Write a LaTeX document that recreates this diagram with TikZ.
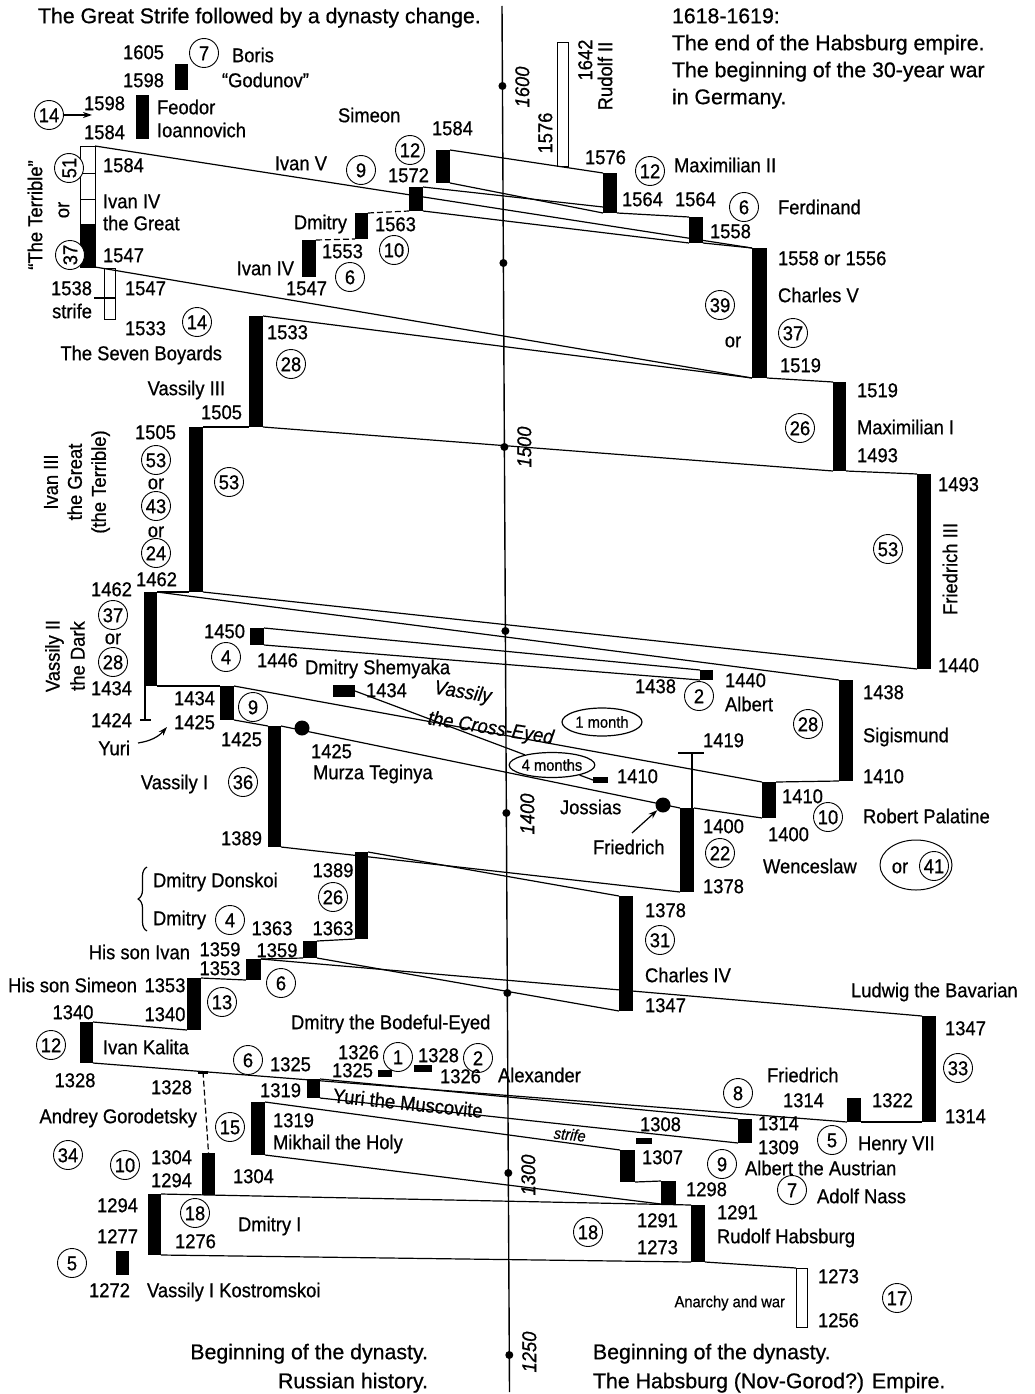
\documentclass[tikz,border=0pt]{standalone}
\usepackage{fontspec}
\setmainfont[FakeStretch=0.92,FakeBold=0.7]{Liberation Sans}
\newfontfamily\capfam[FakeStretch=1.0,FakeBold=0.7]{Liberation Sans}
\usetikzlibrary{shapes.geometric,decorations.pathreplacing,arrows.meta,calc}
\newcommand\fs{\fontsize{20}{25}\selectfont}
\newcommand\fsm{\fontsize{16}{19}\selectfont}
\newcommand\fcap{\capfam\fontsize{21.3}{26}\selectfont}
\newcommand\mkbar[6][blk]{\node[#1,minimum width=#5pt-#3pt,minimum height=#6pt-#4pt] (#2) at ({(#3+#5)/2},{(#4+#6)/2}) {};}
\tikzset{
 t/.style={inner sep=0pt,outer sep=0pt,text height=14.4pt,text depth=0pt},
 L/.style={t,anchor=west},
 R/.style={t,anchor=east},
 C/.style={t},
 captxt/.style={t,font=\fcap},
 cn/.style={circle,draw,line width=0.9pt,fill=white,inner sep=0pt,minimum size=29pt,text height=14.4pt,text depth=0pt},
 blk/.style={fill=black,inner sep=0pt,outer sep=0pt,rectangle},
 wht/.style={draw=black,line width=1pt,fill=white,inner sep=0pt,outer sep=0pt,rectangle},
 frm/.style={draw=black,line width=1pt,inner sep=0pt,outer sep=0pt,rectangle},
 ln/.style={line width=1.2pt,line join=round},
 dln/.style={ln,dash pattern=on 6pt off 3pt},
 axis/.style={line width=1.4pt},
 adot/.style={circle,fill=black,inner sep=0pt,minimum size=8pt},
 bdot/.style={circle,fill=black,inner sep=0pt,minimum size=15pt},
 rl/.style={t,rotate=90},
 yr/.style={t,rotate=90,font=\fs\itshape},
 tip/.style={-{Stealth[length=9pt,width=6pt]}},
 oval/.style={ellipse,draw,line width=1.2pt,fill=white,inner sep=0pt,font=\fsm},
}
\begin{document}
\begin{tikzpicture}[x=1pt,y=-1pt,font=\fs]
\useasboundingbox (0,0) rectangle (1035,1394);
\fill[white] (0,0) rectangle (1035,1394);
% ---------------- axis
\coordinate (atop) at (502,6); \coordinate (abot) at (509.5,1392);
\draw[axis] (atop) -- (abot);
\foreach \yy/\nm in {86/a1,263/a2,447/a3,631/a4,813/a5,993/a6,1173/a7,1355/a8}
  \node[adot] (\nm) at ($(atop)!{(\yy-6)/1386}!(abot)$) {};
\node[yr] (y1600) at (522,87) {1600};
\node[yr] (y1500) at (524,447) {1500};
\node[yr] (y1400) at (527,814) {1400};
\node[yr] (y1300) at (528,1175) {1300};
\node[yr] (y1250) at (529,1352) {1250};
% ---------------- bars, Russian side
\mkbar{boris}{175}{64}{188}{90}
\mkbar{feodor}{136}{95}{149}{139}
\mkbar[wht]{iv4a}{80}{146}{95}{173}
\mkbar[wht]{iv4b}{80}{173}{95}{199}
\mkbar[wht]{iv4c}{80}{199}{95}{224}
\mkbar{iv4d}{80}{224}{95}{267}
\mkbar[frm]{ivan4}{80}{146}{95}{267}
\mkbar[wht]{strife}{104}{268}{115}{319}
\mkbar{iv2}{302}{240}{316}{277}
\mkbar{dmitryA}{355}{213}{368}{239}
\mkbar{ivan5}{409}{187}{423}{211}
\mkbar{simeon}{436}{150}{450}{183}
\mkbar{vas3}{249}{316}{263}{427}
\mkbar{ivan3}{189}{427}{203}{592}
\mkbar{vdark}{144}{592}{157}{686}
\mkbar{shem}{250}{628}{264}{645}
\mkbar{vas2}{220}{686}{234}{720}
\mkbar{vas1}{268}{726}{281}{847}
\mkbar{xeyed}{333}{685}{355}{697}
\mkbar{donskoi}{355}{852}{368}{939}
\mkbar{dmitryB}{303}{941}{317}{958}
\mkbar{ivanson}{246}{959}{261}{980}
\mkbar{simson}{187}{978}{201}{1030}
\mkbar{kalita}{80}{1022}{93}{1063}
\mkbar{bode}{378}{1070}{392}{1077}
\mkbar{alex}{414}{1065}{432}{1072}
\mkbar{yuri}{307}{1079}{320}{1098}
\mkbar{mikhail}{251}{1102}{265}{1155}
\mkbar{andrey}{202}{1153}{215}{1195}
\mkbar{dmitryI}{148}{1194}{161}{1255}
\mkbar{kostrom}{116}{1251}{129}{1275}
% ---------------- bars, Habsburg side
\mkbar[wht]{rudolf2}{557}{43}{568}{166}
\mkbar{max2}{603}{173}{617}{213}
\mkbar{ferd}{689}{217}{703}{243}
\mkbar{charles5}{752}{248}{767}{378}
\mkbar{max1}{833}{382}{846}{471}
\mkbar{fr3}{917}{474}{931}{669}
\mkbar{albert}{700}{670}{713}{680}
\mkbar{sigis}{839}{680}{853}{781}
\mkbar{joss}{593}{777}{608}{783}
\mkbar{robert}{762}{782}{776}{818}
\mkbar{wenc}{680}{808}{694}{892}
\mkbar{charles4}{619}{896}{633}{1011}
\mkbar{ludwig}{922}{1016}{936}{1122}
\mkbar{fried}{847}{1098}{861}{1122}
\mkbar{henry}{738}{1119}{752}{1143}
\mkbar{s1308}{636}{1138}{652}{1144}
\mkbar{albaus}{620}{1150}{635}{1182}
\mkbar{adolf}{661}{1181}{676}{1204}
\mkbar{rudolf}{691}{1205}{705}{1262}
\mkbar[wht]{anarchy}{796}{1268}{807}{1327}
% ---------------- connectors
\coordinate (max2in) at ($(max2.south west)+(0,-6)$);
\draw[ln] (simeon.north east) -- (max2.north west);
\draw[ln] (simeon.south east) -- (max2.south west);
\draw[ln] (ivan5.north east) -- (max2in);
\draw[ln] (ivan5.south east) -- (ferd.south west);
\draw[ln] (max2.south east) -- (ferd.north west);
\draw[ln] (ivan4.north east) -- (charles5.north west);
\draw[ln] (ivan4.south east) -- (charles5.south west);
\draw[ln] (ferd.south east) -- (charles5.north west);
\draw[dln] (iv2.north east) -- (dmitryA.south west);
\draw[dln] (dmitryA.north east) -- (ivan5.south west);
\draw[ln] (vas3.north east) -- (charles5.south west);
\draw[ln] (charles5.south east) -- (max1.north west);
\draw[ln] (vas3.south east) -- (max1.south west);
\draw[ln] (max1.south east) -- (fr3.north west);
\draw[ln] (ivan3.north east) -- (vas3.south west);
\draw[ln] (ivan3.south east) -- (fr3.south west);
\draw[ln] (vdark.north east) -- (ivan3.south west);
\draw[ln] (vdark.north east) -- (sigis.north west);
\draw[ln] (vdark.south east) -- (vas2.north west);
\draw[ln] (vas2.north east) -- (robert.north west);
\draw[ln] (robert.north east) -- (sigis.south west);
\draw[ln] (vas2.south east) -- (vas1.north west);
\draw[ln] (vas1.north east) -- (wenc.north west);
\draw[ln] (wenc.north east) -- (robert.south west);
\draw[ln] (vas1.south east) -- (wenc.south west);
\draw[ln] (shem.north east) -- (albert.north west);
\draw[ln] (shem.south east) -- (albert.south west);
\draw[ln] (donskoi.north east) -- (charles4.north west);
\draw[ln] (dmitryB.north east) -- (donskoi.south west);
\draw[ln] (dmitryB.south east) -- (charles4.south west);
\draw[ln] (ivanson.north east) -- (dmitryB.south west);
\draw[ln] (ivanson.north east) -- (ludwig.north west);
\draw[ln] (simson.north east) -- (ivanson.south west);
\draw[ln] (kalita.north east) -- (simson.south west);
\draw[ln] (kalita.south east) -- (fried.south west) coordinate[pos=0.1459] (adtop);
\draw[ln] (fried.south east) -- (ludwig.south west);
\draw[ln] (yuri.north east) -- (henry.north west);
\draw[ln] (yuri.south east) -- (henry.south west);
\draw[ln] (mikhail.north east) -- (albaus.north west);
\draw[ln] (mikhail.south east) -- (adolf.south west);
\draw[ln] (albaus.south east) -- (adolf.north west);
\draw[ln] (dmitryI.north east) -- (rudolf.north west);
\draw[ln] (dmitryI.south east) -- (rudolf.south west);
\draw[ln] (rudolf.south east) -- (anarchy.north west);
\draw[dln] (adtop) -- (andrey.north);
\draw[line width=2.5pt] ($(adtop)+(-5,1)$) -- ($(adtop)+(5,1)$);
% T marks
\coordinate (yT) at (145,720);
\draw[ln] (yT |- vdark.south) -- (yT);
\draw[ln] ($(yT)+(-5,0)$) -- ($(yT)+(6,0)$);
\coordinate (tT) at (692,753);
\draw[ln] (tT) -- (tT |- wenc.north);
\draw[ln] ($(tT)+(-14,0)$) -- ($(tT)+(12,0)$);
\draw[ln] (94,298) -- (strife.east |- 0,298);
% ovals and cross-eyed
\node[oval,minimum width=80pt,minimum height=28pt] (onem) at (602,722) {1 month};
\node[oval,minimum width=80pt,minimum height=25pt] (fourm) at (552,765) {4 months};
\draw[ln] (xeyed.east) -- (fourm);
\draw[ln] (fourm) -- (joss.west);
% dots
\node[bdot] (murza) at (302,728) {};
\node[bdot] (frdot) at (663,805) {};
% brace
\draw[ln,decorate,decoration={brace,amplitude=9pt}] (147,931) -- (147,867);
% ---------------- texts, top
\node[captxt,anchor=west] (h1) at (38,16) {The Great Strife followed by a dynasty change.};
\node[captxt,anchor=west] (h2) at (672,16) {1618-1619:};
\node[captxt,anchor=west] (h3) at (672,43) {The end of the Habsburg empire.};
\node[captxt,anchor=west] (h4) at (672,70) {The beginning of the 30-year war};
\node[captxt,anchor=west] (h5) at (672,97) {in Germany.};
% Boris, Feodor
\node[R] at (164,52) {1605};
\node[R] at (164,80) {1598};
\node[cn] (c1) at (204,53) {7};
\node[L] at (232,55) {Boris};
\node[L] at (222,80) {``Godunov''};
\node[R] at (125,103) {1598};
\node[R] at (125,132) {1584};
\node[L] at (157,107) {Feodor};
\node[L] at (157,130) {Ioannovich};
\node[cn] (c2) at (49,115) {14};
\coordinate (arr14) at (92,115);
\draw[ln,tip] (c2.east) -- (arr14);
% Ivan IV
\node[L] at (103,165) {1584};
\node[L] at (103,201) {Ivan IV};
\node[L] at (103,223) {the Great};
\node[L] at (103,255) {1547};
\node[rl] at (35,215) {``The Terrible''};
\node[cn,rotate=90] (c3) at (69,168) {51};
\node[rl] at (62,210) {or};
\node[cn,rotate=90] (c4) at (70,255) {37};
\node[R] at (92,288) {1538};
\node[R] at (92,311) {strife};
\node[L] at (125,288) {1547};
\node[L] at (125,328) {1533};
\node[cn] (c5) at (197,322) {14};
\node[R] at (222,353) {The Seven Boyards};
% Vassily III
\node[L] at (267,332) {1533};
\node[cn] (c6) at (291,364) {28};
\node[R] at (225,388) {Vassily III};
\node[R] at (242,412) {1505};
% Ivan IV (6), Dmitry, Ivan V, Simeon
\node[R] at (294,268) {Ivan IV};
\node[R] at (327,288) {1547};
\node[L] at (322,251) {1553};
\node[cn] (c7) at (350,277) {6};
\node[R] at (347,222) {Dmitry};
\node[L] at (375,224) {1563};
\node[cn] (c8) at (394,250) {10};
\node[R] at (327,163) {Ivan V};
\node[cn] (c9) at (361,170) {9};
\node[L] at (388,175) {1572};
\node[L] at (338,115) {Simeon};
\node[cn] (c10) at (410,150) {12};
\node[L] at (432,128) {1584};
% Rudolf II, Maximilian II, Ferdinand, Charles V
\node[rl] at (585,60) {1642};
\node[rl] at (605,76) {Rudolf II};
\node[rl] at (545,133) {1576};
\node[L] at (585,157) {1576};
\node[cn] (c11) at (650,171) {12};
\node[L] at (674,165) {Maximilian II};
\node[L] at (622,199) {1564};
\node[L] at (675,199) {1564};
\node[cn] (c12) at (744,207) {6};
\node[L] at (778,207) {Ferdinand};
\node[L] at (710,231) {1558};
\node[L] at (778,258) {1558 or 1556};
\node[L] at (778,295) {Charles V};
\node[cn] (c13) at (793,333) {37};
\node[cn] (c14) at (720,305) {39};
\node[C] at (733,340) {or};
\node[L] at (780,365) {1519};
% Maximilian I, Friedrich III
\node[L] at (857,390) {1519};
\node[L] at (857,427) {Maximilian I};
\node[L] at (857,455) {1493};
\node[cn] (c15) at (800,428) {26};
\node[L] at (938,484) {1493};
\node[rl] at (950,569) {Friedrich III};
\node[L] at (938,665) {1440};
\node[cn] (c16) at (888,549) {53};
% Ivan III
\node[R] at (176,432) {1505};
\node[cn] (c17) at (156,460) {53};
\node[C] at (156,482) {or};
\node[cn] (c18) at (156,506) {43};
\node[C] at (156,530) {or};
\node[cn] (c19) at (156,553) {24};
\node[R] at (177,579) {1462};
\node[cn] (c20) at (229,482) {53};
\node[rotate=90,align=center,inner sep=0pt,font=\fontsize{20}{24}\selectfont] at (77,482) {Ivan III\\the Great\\(the Terrible)};
% Vassily II the Dark
\node[R] at (132,589) {1462};
\node[cn] (c21) at (113,615) {37};
\node[C] at (113,637) {or};
\node[cn] (c22) at (113,662) {28};
\node[R] at (132,688) {1434};
\node[rotate=90,align=center,inner sep=0pt,font=\fontsize{20}{25}\selectfont] at (65,656) {Vassily II\\the Dark};
% Shemyaka, Cross-Eyed
\node[R] at (245,631) {1450};
\node[cn] (c23) at (226,657) {4};
\node[L] at (257,660) {1446};
\node[L] at (305,667) {Dmitry Shemyaka};
\node[L] at (366,690) {1434};
\node[t,rotate=-9,font=\fs\itshape] at (463,691) {Vassily};
\node[t,rotate=-9,font=\fs\itshape] at (491,727) {the Cross-Eyed};
% Albert, Sigismund, Robert, Wenceslaw
\node[R] at (676,686) {1438};
\node[L] at (725,680) {1440};
\node[cn] (c24) at (699,696) {2};
\node[L] at (725,704) {Albert};
\node[L] at (863,692) {1438};
\node[L] at (863,735) {Sigismund};
\node[L] at (863,776) {1410};
\node[cn] (c25) at (808,724) {28};
\node[L] at (703,740) {1419};
\node[L] at (782,796) {1410};
\node[L] at (768,834) {1400};
\node[cn] (c26) at (828,817) {10};
\node[L] at (863,816) {Robert Palatine};
\node[L] at (703,826) {1400};
\node[cn] (c27) at (720,853) {22};
\node[L] at (703,886) {1378};
\node[L] at (763,866) {Wenceslaw};
\node[ellipse,draw,line width=1pt,minimum width=72pt,minimum height=50pt,inner sep=0pt] (orell) at (916,865) {};
\node[C] at (900,866) {or};
\node[cn] (c28) at (934,866) {41};
% Vassily II, Vassily I, Yuri
\node[R] at (215,698) {1434};
\node[R] at (215,722) {1425};
\node[cn] (c29) at (253,707) {9};
\node[R] at (132,720) {1424};
\node[R] (yuri) at (130,748) {Yuri};
\coordinate (yaS) at (138,743); \coordinate (yaE) at (167,727);
\draw[ln,tip] (yaS) to[bend right=20] (yaE);
\node[R] at (262,739) {1425};
\node[cn] (c30) at (243,782) {36};
\node[R] at (208,782) {Vassily I};
\node[R] at (262,838) {1389};
\node[L] at (311,751) {1425};
\node[L] at (313,772) {Murza Teginya};
% Jossias, Friedrich
\node[L] at (617,776) {1410};
\node[L] at (560,807) {Jossias};
\node[L] at (593,847) {Friedrich};
\coordinate (frA) at (632,833);
\draw[ln,tip] (frA) -- (frdot);
% Donskoi etc.
\node[C] at (333,870) {1389};
\node[cn] (c31) at (333,897) {26};
\node[C] at (333,928) {1363};
\node[L] at (153,880) {Dmitry Donskoi};
\node[L] at (153,918) {Dmitry};
\node[cn] (c32) at (230,920) {4};
\node[C] at (272,928) {1363};
\node[C] at (277,950) {1359};
\node[C] at (220,949) {1359};
\node[C] at (220,968) {1353};
\node[R] at (190,952) {His son Ivan};
\node[cn] (c33) at (281,983) {6};
\node[R] at (137,985) {His son Simeon};
\node[C] at (165,985) {1353};
\node[C] at (73,1012) {1340};
\node[C] at (165,1014) {1340};
\node[cn] (c34) at (222,1002) {13};
\node[cn] (c35) at (51,1045) {12};
\node[L] at (103,1047) {Ivan Kalita};
% Charles IV, Ludwig
\node[L] at (645,910) {1378};
\node[cn] (c36) at (660,940) {31};
\node[L] at (645,975) {Charles IV};
\node[L] at (645,1005) {1347};
\node[L] at (851,990) {Ludwig the Bavarian};
\node[L] at (945,1028) {1347};
\node[cn] (c37) at (958,1068) {33};
\node[L] at (945,1116) {1314};
% Bodeful-Eyed, Alexander
\node[L] at (291,1022) {Dmitry the Bodeful-Eyed};
\node[R] at (379,1052) {1326};
\node[R] at (373,1070) {1325};
\node[cn] (c38) at (398,1057) {1};
\node[L] at (418,1055) {1328};
\node[cn] (c39) at (478,1058) {2};
\node[L] at (440,1076) {1326};
\node[L] at (498,1075) {Alexander};
% Kalita area, Yuri the Muscovite
\node[cn] (c40) at (248,1060) {6};
\node[L] at (270,1064) {1325};
\node[C] at (75,1080) {1328};
\node[R] at (192,1087) {1328};
\node[R] at (301,1090) {1319};
\node[t,rotate=-6] at (408,1103) {Yuri the Muscovite};
% Andrey, Mikhail
\node[R] at (197,1116) {Andrey Gorodetsky};
\node[cn] (c41) at (68,1155) {34};
\node[cn] (c42) at (125,1165) {10};
\node[R] at (192,1157) {1304};
\node[R] at (192,1180) {1294};
\node[L] at (233,1176) {1304};
\node[cn] (c43) at (230,1127) {15};
\node[L] at (273,1120) {1319};
\node[L] at (273,1142) {Mikhail the Holy};
% Dmitry I, Kostromskoi
\node[R] at (138,1205) {1294};
\node[R] at (138,1236) {1277};
\node[cn] (c44) at (195,1213) {18};
\node[L] at (175,1241) {1276};
\node[L] at (238,1224) {Dmitry I};
\node[cn] (c45) at (72,1263) {5};
\node[R] at (130,1290) {1272};
\node[L] at (147,1290) {Vassily I Kostromskoi};
% Habsburg bottom
\node[L] at (640,1124) {1308};
\node[L] at (642,1157) {1307};
\node[t,rotate=-6,font=\fsm\itshape] at (570,1133) {strife};
\node[L] at (758,1123) {1314};
\node[L] at (758,1147) {1309};
\node[cn] (c46) at (722,1164) {9};
\node[L] at (745,1168) {Albert the Austrian};
\node[cn] (c47) at (832,1140) {5};
\node[L] at (858,1143) {Henry VII};
\node[cn] (c48) at (738,1093) {8};
\node[L] at (767,1075) {Friedrich};
\node[L] at (783,1100) {1314};
\node[L] at (872,1100) {1322};
\node[L] at (686,1189) {1298};
\node[cn] (c49) at (792,1190) {7};
\node[L] at (817,1196) {Adolf Nass};
\node[L] at (717,1212) {1291};
\node[L] at (717,1236) {Rudolf Habsburg};
\node[L] at (637,1220) {1291};
\node[L] at (637,1247) {1273};
\node[cn] (c50) at (588,1232) {18};
\node[L] at (818,1276) {1273};
\node[cn] (c51) at (897,1298) {17};
\node[L] at (818,1320) {1256};
\node[R,font=\fsm] at (785,1300) {Anarchy and war};
% bottom captions
\node[captxt,anchor=east] at (428,1352) {Beginning of the dynasty.};
\node[captxt,anchor=east] at (428,1381) {Russian history.};
\node[captxt,anchor=west] at (593,1352) {Beginning of the dynasty.};
\node[captxt,anchor=west] at (593,1381) {The Habsburg (Nov-Gorod?) Empire.};
\end{tikzpicture}
\end{document}
